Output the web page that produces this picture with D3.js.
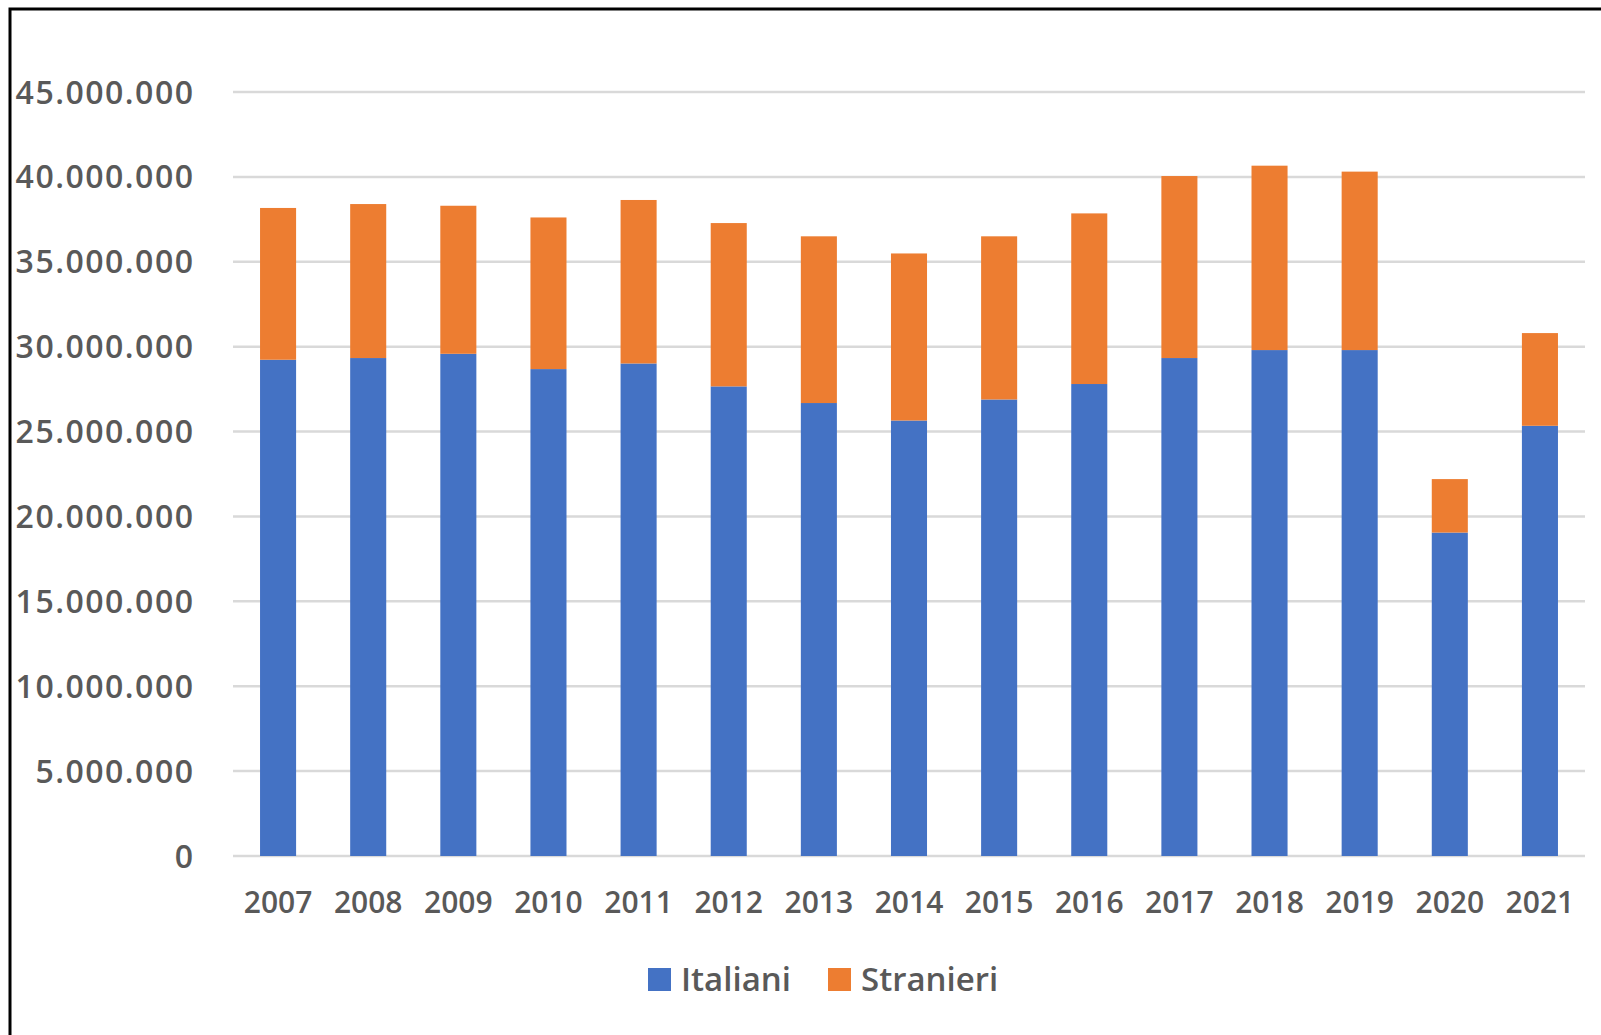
<!DOCTYPE html>
<html>
<head>
<meta charset="utf-8">
<script src="https://cdn.jsdelivr.net/npm/d3@7"></script>
<style>
  body { margin: 0; background: #fff; }
  text { font-family: "Open Sans", sans-serif; font-weight: 600; fill: #595959; }
</style>
</head>
<body>
<div id="chart"></div>
<script>
// data
var years = ["2007","2008","2009","2010","2011","2012","2013","2014","2015","2016","2017","2018","2019","2020","2021"];
var italiani = [29230000, 29330000, 29580000, 28680000, 29010000, 27660000, 26680000, 25650000, 26890000, 27800000, 29330000, 29800000, 29800000, 19050000, 25340000];
var totali = [38170000, 38400000, 38300000, 37610000, 38640000, 37280000, 36500000, 35490000, 36500000, 37850000, 40050000, 40660000, 40310000, 22200000, 30800000];
var stranieri = totali.map(function(t, i) { return t - italiani[i]; });
var yTicks = [0, 5000000, 10000000, 15000000, 20000000, 25000000, 30000000, 35000000, 40000000, 45000000];
var seriesNames = ["Italiani", "Stranieri"];
var colors = ["#4472C4", "#ED7D31"];

function drawChart() {
  var fullWidth = 1601, fullHeight = 1035;
  var plotLeft = 233, plotRight = 1585, plotTop = 92, plotBottom = 856;

  var svg = d3.select("#chart").append("svg")
    .attr("width", fullWidth).attr("height", fullHeight);

  svg.append("rect").attr("width", fullWidth).attr("height", fullHeight).attr("fill", "#fff");

  var stackdata = years.map(function(y, i) {
    return { year: y, Italiani: italiani[i], Stranieri: stranieri[i] };
  });

  var xScale = d3.scaleBand().domain(years).range([plotLeft, plotRight]).paddingInner(0.6).paddingOuter(0.3);
  var yScale = d3.scaleLinear().domain([0, 45000000]).range([plotBottom, plotTop]);

  var fmt = d3.formatLocale({ decimal: ",", thousands: ".", grouping: [3], currency: ["", "€"] }).format(",d");

  // gridlines
  svg.append("g").selectAll("line")
    .data(yTicks).enter().append("line")
    .attr("x1", plotLeft).attr("x2", plotRight)
    .attr("y1", function(d) { return yScale(d); })
    .attr("y2", function(d) { return yScale(d); })
    .attr("stroke", "#d9d9d9").attr("stroke-width", 2.5);

  // y labels
  svg.append("g").selectAll("text")
    .data(yTicks).enter().append("text")
    .attr("x", 194.5)
    .attr("y", function(d) { return yScale(d) + 11.5; })
    .attr("text-anchor", "end")
    .style("font-size", "32px")
    .style("letter-spacing", "1.5px")
    .text(function(d) { return fmt(d); });

  var stack = d3.stack().keys(seriesNames);
  var sData = stack(stackdata);

  var series = svg.selectAll("g.series")
    .data(sData).enter().append("g")
    .attr("class", "series")
    .attr("fill", function(d, i) { return colors[i]; });

  series.selectAll("rect")
    .data(function(d) { return d; })
    .enter().append("rect")
    .attr("x", function(d) { return xScale(d.data.year); })
    .attr("width", xScale.bandwidth())
    .attr("y", function(d) { return yScale(d[1]); })
    .attr("height", function(d) { return yScale(d[0]) - yScale(d[1]); });

  // x labels
  svg.append("g").selectAll("text")
    .data(years).enter().append("text")
    .attr("x", function(d) { return xScale(d) + xScale.bandwidth() / 2; })
    .attr("y", 913)
    .attr("text-anchor", "middle")
    .style("font-size", "30px")
    .text(function(d) { return d; });

  // legend
  var legendX = [648, 828];
  var legend = svg.append("g").selectAll("g")
    .data(seriesNames).enter().append("g")
    .attr("transform", function(d, i) { return "translate(" + legendX[i] + ",968)"; });
  legend.append("rect")
    .attr("width", 23).attr("height", 23)
    .attr("fill", function(d, i) { return colors[i]; });
  legend.append("text")
    .attr("x", 33).attr("y", 23)
    .style("font-size", "33px")
    .text(function(d) { return d; });

  // frame (top and left)
  svg.append("path")
    .attr("d", "M10,1035 L10,9 L1601,9")
    .attr("fill", "none").attr("stroke", "#000").attr("stroke-width", 3);
}

drawChart();
</script>
</body>
</html>
